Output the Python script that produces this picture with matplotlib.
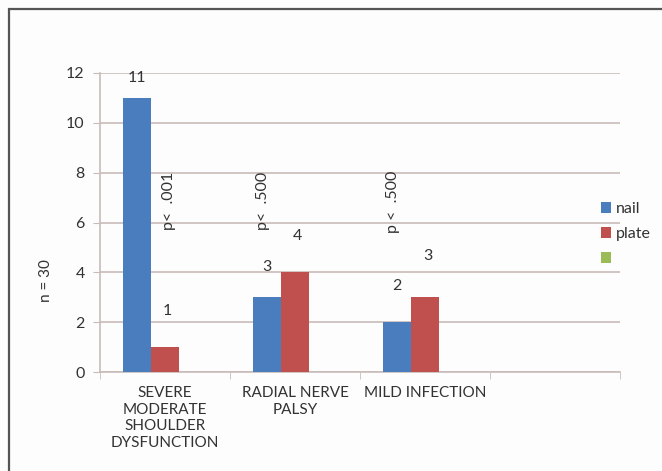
import matplotlib.pyplot as plt
from matplotlib.patches import Rectangle
import numpy as np

plt.rcParams['font.family'] = ['Lato', 'DejaVu Sans']

categories = ['SEVERE\nMODERATE\nSHOULDER\nDYSFUNCTION', 'RADIAL NERVE\nPALSY', 'MILD INFECTION', '']
nail = [11, 3, 2, 0]
plate = [1, 4, 3, 0]
p_values = ['p<  .001', 'p<  .500', 'p <  .500']

# label offsets (points above bar top), hand-placed like in the original
nail_off = [14, 22, 26]
plate_off = [26, 26, 30]

txt_c = '#333333'

fig = plt.figure(figsize=(6.62, 4.71), dpi=100)
fig.patch.set_facecolor('#fdfdfd')
fig.patches.append(Rectangle((9 / 662, -0.2), 1.2, 1.2 - 9 / 471, transform=fig.transFigure,
                             fill=False, edgecolor='#555555', linewidth=1.6))

ax = fig.add_axes([100 / 662, 1 - 372 / 471, 520 / 662, 299 / 471])
ax.set_facecolor('#fdfdfd')

x = np.arange(len(categories))
w = 0.215
grid_c = '#c9bcb8'

ax.bar(x - w, nail, w, color='#4a7dbd', label='nail', zorder=3)
ax.bar(x, plate, w, color='#c0504d', label='plate', zorder=3)
ax.bar(x + w, [0] * len(categories), w, color='#9bbb59', label=' ', zorder=3)

for i in range(3):
    ax.annotate(str(nail[i]), (x[i] - w, nail[i]), xytext=(0, nail_off[i]), textcoords='offset points',
                ha='center', va='center', fontsize=11.5, color=txt_c)
    ax.annotate(str(plate[i]), (x[i], plate[i]), xytext=(2, plate_off[i]), textcoords='offset points',
                ha='center', va='center', fontsize=11.5, color=txt_c)
ax.text(x[0] + 0.03, 6.85, p_values[0], rotation=90, ha='center', va='center', fontsize=11.5, color=txt_c)
ax.text(x[1] - 0.25, 6.85, p_values[1], rotation=90, ha='center', va='center', fontsize=11.5, color=txt_c)
ax.text(x[2] - 0.25, 6.85, p_values[2], rotation=90, ha='center', va='center', fontsize=11.5, color=txt_c)

ax.set_xlim(-0.5, 3.5)
ax.set_ylim(0, 12)
ax.set_yticks(range(0, 13, 2))
ax.yaxis.grid(True, color=grid_c, linewidth=1.2, zorder=0)
ax.set_axisbelow(True)
for s in ['top', 'right']:
    ax.spines[s].set_visible(False)
for s in ['left', 'bottom']:
    ax.spines[s].set_color(grid_c)
    ax.spines[s].set_linewidth(1.2)

ax.set_xticks(x)
ax.set_xticklabels(categories, fontsize=11, color=txt_c, linespacing=1.25)
ax.set_xticks(np.arange(-0.5, 4, 1), minor=True)
ax.tick_params(axis='x', which='major', length=0, pad=10)
ax.tick_params(axis='x', which='minor', length=5, color=grid_c, direction='out')
ax.tick_params(axis='y', length=5, color=grid_c, labelsize=11.5, labelcolor=txt_c, pad=6)

ax.set_ylabel('n = 30', fontsize=11, color=txt_c)
ax.yaxis.set_label_coords(-0.09, 0.307)

leg = ax.legend(loc='upper left', bbox_to_anchor=(601 / 662, 1 - 202 / 471), bbox_transform=fig.transFigure,
                frameon=False, fontsize=11.5, handlelength=0.65, handleheight=0.65, handletextpad=0.3,
                labelspacing=0.7, borderpad=0, borderaxespad=0)
for t in leg.get_texts():
    t.set_color(txt_c)

fig.savefig('out.png', dpi=100, facecolor=fig.get_facecolor())
